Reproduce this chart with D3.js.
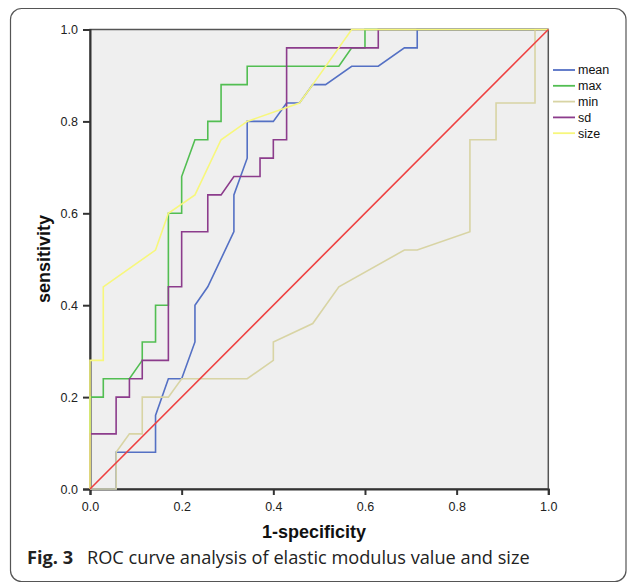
<!DOCTYPE html>
<html>
<head>
<meta charset="utf-8">
<script src="https://cdn.jsdelivr.net/npm/d3@7"></script>
<style>
  body { margin: 0; background: #fff; }
  .tick text { font-family: "Liberation Sans", Arial, sans-serif; font-size: 12.5px; fill: #222; }
  .axis-title { font-family: "Liberation Sans", Arial, sans-serif; font-size: 18px; font-weight: bold; fill: #111; }
  .legend text { font-family: "Liberation Sans", Arial, sans-serif; font-size: 12.5px; fill: #111; }
  .caption { font-family: "Open Sans", sans-serif; font-size: 18.2px; fill: #222; }
</style>
</head>
<body>
<div id="chart"></div>
<script>
// series names and colours, in legend order
var seriesNames = ["mean", "max", "min", "sd", "size"];
var seriesColors = ["#5470c4", "#52be52", "#d8d4a4", "#8c3c8c", "#f7f77c"];

// 1-specificity / sensitivity pairs
var meanFpr = [0, 0.057, 0.057, 0.143, 0.143, 0.171, 0.2, 0.229, 0.229, 0.257, 0.314, 0.314, 0.343, 0.343, 0.4, 0.429, 0.457, 0.486, 0.514, 0.571, 0.629, 0.686, 0.714, 0.714, 1];
var meanTpr = [0, 0, 0.08, 0.08, 0.16, 0.24, 0.24, 0.32, 0.40, 0.44, 0.56, 0.64, 0.72, 0.80, 0.80, 0.84, 0.84, 0.88, 0.88, 0.92, 0.92, 0.96, 0.96, 1.0, 1.0];

var maxFpr = [0, 0, 0.029, 0.029, 0.086, 0.114, 0.114, 0.143, 0.143, 0.171, 0.171, 0.2, 0.2, 0.229, 0.257, 0.257, 0.286, 0.286, 0.343, 0.343, 0.543, 0.571, 0.6, 0.6, 1];
var maxTpr = [0, 0.20, 0.20, 0.24, 0.24, 0.28, 0.32, 0.32, 0.40, 0.40, 0.60, 0.60, 0.68, 0.76, 0.76, 0.80, 0.80, 0.88, 0.88, 0.92, 0.92, 0.96, 0.96, 1.0, 1.0];

var minFpr = [0, 0.057, 0.057, 0.086, 0.114, 0.114, 0.171, 0.2, 0.343, 0.4, 0.4, 0.486, 0.543, 0.686, 0.714, 0.829, 0.829, 0.886, 0.886, 0.971, 0.971, 1];
var minTpr = [0, 0, 0.08, 0.12, 0.12, 0.20, 0.20, 0.24, 0.24, 0.28, 0.32, 0.36, 0.44, 0.52, 0.52, 0.56, 0.76, 0.76, 0.84, 0.84, 1.0, 1.0];

var sdFpr = [0, 0, 0.057, 0.057, 0.086, 0.086, 0.114, 0.114, 0.171, 0.171, 0.2, 0.2, 0.257, 0.257, 0.286, 0.314, 0.371, 0.371, 0.4, 0.4, 0.429, 0.429, 0.629, 0.629, 1];
var sdTpr = [0, 0.12, 0.12, 0.20, 0.20, 0.24, 0.24, 0.28, 0.28, 0.44, 0.44, 0.56, 0.56, 0.64, 0.64, 0.68, 0.68, 0.72, 0.72, 0.76, 0.76, 0.96, 0.96, 1.0, 1.0];

var sizeFpr = [0, 0, 0.029, 0.029, 0.143, 0.171, 0.229, 0.286, 0.343, 0.457, 0.486, 0.571, 1];
var sizeTpr = [0, 0.28, 0.28, 0.44, 0.52, 0.60, 0.64, 0.76, 0.80, 0.84, 0.88, 1.0, 1.0];

// diagonal reference line
var refFpr = [0, 1];
var refTpr = [0, 1];

var tickValues = [0, 0.2, 0.4, 0.6, 0.8, 1.0];

var width = 627, height = 583;
var x, y, svg;

function init() {
    svg = d3.select("#chart").append("svg")
        .attr("width", width)
        .attr("height", height);

    // rounded frame around figure + caption
    svg.append("rect")
        .attr("x", 10.5).attr("y", 8.5)
        .attr("width", 615.5).attr("height", 573)
        .attr("rx", 11)
        .attr("fill", "none")
        .attr("stroke", "#555")
        .attr("stroke-width", 1.2);

    x = d3.scaleLinear().domain([0, 1]).range([90, 548.3]);
    y = d3.scaleLinear().domain([0, 1]).range([489, 29.5]);

    drawFrame();
    drawCurves();
    drawLegend();
    drawLabels();
}

function drawFrame() {
    svg.append("rect")   // grey plot area
        .attr("x", x(0)).attr("y", y(1))
        .attr("width", x(1) - x(0)).attr("height", y(0) - y(1))
        .attr("fill", "#efefef")
        .attr("stroke", "#555")
        .attr("stroke-width", 1.5);

    var fmt = d3.format(".1f");

    var xAxis = svg.append("g")
        .attr("transform", "translate(0," + y(0) + ")")
        .call(d3.axisBottom(x).tickValues(tickValues).tickFormat(fmt).tickSize(6).tickPadding(7));

    var yAxis = svg.append("g")
        .attr("transform", "translate(" + x(0) + ",0)")
        .call(d3.axisLeft(y).tickValues(tickValues).tickFormat(fmt).tickSize(7).tickPadding(5));

    [xAxis, yAxis].forEach(function (g) {
        g.select(".domain").attr("stroke", "#333").attr("stroke-width", 2);
        g.selectAll(".tick line").attr("stroke", "#333").attr("stroke-width", 2);
        g.attr("font-family", null).attr("font-size", null);
    });
}

function drawCurves() {
    var line = d3.line()
        .x(function (d) { return x(d[0]); })
        .y(function (d) { return y(d[1]); });

    var curves = [
        [meanFpr, meanTpr],
        [maxFpr, maxTpr],
        [minFpr, minTpr],
        [sdFpr, sdTpr],
        [sizeFpr, sizeTpr]
    ];

    curves.forEach(function (c, i) {
        svg.append("path")
            .datum(d3.zip(c[0], c[1]))
            .attr("d", line)
            .attr("fill", "none")
            .attr("stroke", seriesColors[i])
            .attr("stroke-width", 1.6);
    });

    svg.append("path")   // chance line
        .datum(d3.zip(refFpr, refTpr))
        .attr("d", line)
        .attr("fill", "none")
        .attr("stroke", "#ee4040")
        .attr("stroke-width", 1.6);
}

function drawLegend() {
    var lg = svg.append("g").attr("class", "legend")
        .attr("transform", "translate(553,70)");

    var rows = lg.selectAll("g")
        .data(seriesNames)
        .enter().append("g")
        .attr("transform", function (d, i) { return "translate(0," + (i * 15.8) + ")"; });

    rows.append("line")
        .attr("x1", 0).attr("x2", 22)
        .attr("stroke", function (d, i) { return seriesColors[i]; })
        .attr("stroke-width", 1.8);

    rows.append("text")
        .attr("x", 25)
        .attr("dy", "0.35em")
        .text(function (d) { return d; });
}

function drawLabels() {
    svg.append("text")
        .attr("class", "axis-title")
        .attr("text-anchor", "middle")
        .attr("x", 314).attr("y", 538)
        .text("1-specificity");

    svg.append("text")
        .attr("class", "axis-title")
        .attr("text-anchor", "middle")
        .attr("transform", "translate(50,259) rotate(-90)")
        .text("sensitivity");

    var cap = svg.append("text")
        .attr("class", "caption")
        .attr("x", 27).attr("y", 564);
    cap.append("tspan").attr("font-weight", "bold").text("Fig. 3");
    cap.append("tspan").attr("x", 87).text("ROC curve analysis of elastic modulus value and size");
}

window.onload = init();
</script>
</body>
</html>
